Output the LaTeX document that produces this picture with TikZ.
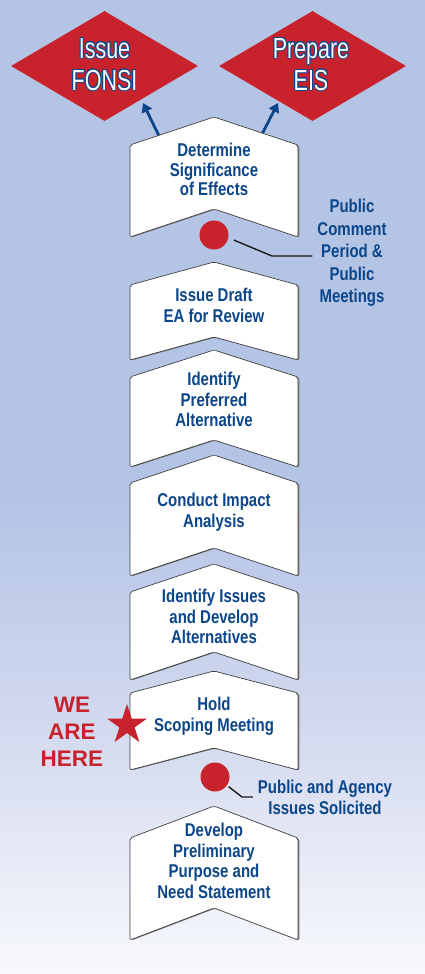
\documentclass[tikz,border=0pt]{standalone}
\usepackage{fontspec}
\setmainfont{Liberation Sans}
\newfontfamily\chevfont[FakeStretch=0.81]{Liberation Sans Bold}
\newfontfamily\diafont[FakeStretch=0.74]{Liberation Sans}
\usepackage{contour}
\contourlength{0.9pt}
\usetikzlibrary{shapes.geometric,arrows.meta}
\definecolor{dblue}{RGB}{12,70,138}
\definecolor{dred}{RGB}{200,35,45}
\definecolor{bgtop}{RGB}{180,196,229}
\definecolor{bgmid}{RGB}{214,220,240}
\definecolor{bgbot}{RGB}{248,249,253}
\pgfdeclareverticalshading{bgshade}{100bp}{color(0bp)=(bgbot); color(25bp)=(bgbot); color(36.5bp)=(bgmid); color(49.3bp)=(bgtop); color(100bp)=(bgtop)}
\newcommand\chevshape[3]{%
  \fill[black!55,rounded corners=2pt,xshift=1.3pt,yshift=-0.5pt] (130,#1) -- (214,{#1-#3}) -- (298,#1) -- (298,#2) -- (214,{#2-#3}) -- (130,#2) -- cycle;
  \filldraw[chev] (130,#1) -- (214,{#1-#3}) -- (298,#1) -- (298,#2) -- (214,{#2-#3}) -- (130,#2) -- cycle;}
\tikzset{
  chev/.style={fill=white, draw=black!75, line width=0.7pt, rounded corners=2pt},
  ctext/.style={anchor=north, inner sep=0pt, align=center, text=dblue, font=\chevfont\fontsize{18.5}{20.5}\selectfont},
  dtext/.style={anchor=north, inner sep=0pt, align=center, text=white, font=\diafont\fontsize{29}{32}\selectfont},
  dia/.style={diamond, fill=dred, minimum width=187pt, minimum height=110pt, inner sep=0pt},
  arr/.style={draw=dblue, line width=2.8pt, -{Triangle[width=11pt,length=9pt]}},
  dot/.style={circle, fill=dred, minimum size=29pt, inner sep=0pt},
  leader/.style={draw=black!90, line width=1.4pt},
}
\begin{document}
\begin{tikzpicture}[x=1pt,y=-1pt]
\useasboundingbox (0,0) rectangle (425,974);
\shade[shading=bgshade] (0,0) rectangle (425,974);
% decision diamonds
\node[dia] (fonsi) at (104.5,66) {};
\node[dia] (eis) at (312.5,66) {};
\node[dtext] (fonsit) at (104.5,38) {\contour{dblue}{Issue}\\\contour{dblue}{FONSI}};
\node[dtext] (eist) at (311,38) {\contour{dblue}{Prepare}\\\contour{dblue}{EIS}};
% arrows
\coordinate (a1s) at (160,138);
\coordinate (a1e) at (143,103);
\coordinate (a2s) at (261,136);
\coordinate (a2e) at (278,103);
\draw[arr] (a1s) -- (a1e);
\draw[arr] (a2s) -- (a2e);
% chevrons
\chevshape{145}{237}{28}
\chevshape{285}{360}{23}
\chevshape{377}{467}{27}
\chevshape{483}{576}{28}
\chevshape{592}{680}{28}
\chevshape{693}{770}{22}
\chevshape{838}{940}{32}
% chevron texts
\node[ctext, font=\chevfont\fontsize{18.5}{19.5}\selectfont] (det) at (214,143) {Determine\\Significance\\of Effects};
\node[ctext] (draft) at (214,288) {Issue Draft\\EA for Review};
\node[ctext] (pref) at (214,372) {Identify\\Preferred\\Alternative};
\node[ctext] (impact) at (214,493) {Conduct Impact\\Analysis};
\node[ctext] (issues) at (214,589) {Identify Issues\\and Develop\\Alternatives};
\node[ctext, font=\chevfont\fontsize{18.5}{21}\selectfont] (scope) at (214,697) {Hold\\Scoping Meeting};
\node[ctext] (need) at (214,823) {Develop\\Preliminary\\Purpose and\\Need Statement};
% public involvement dots
\node[dot] (dot1) at (214,235) {};
\node[dot] (dot2) at (215,777) {};
\node[ctext, font=\chevfont\fontsize{18.5}{22.5}\selectfont] (pc1) at (352,199) {Public\\Comment\\Period \&\\Public\\Meetings};
\node[ctext, font=\chevfont\fontsize{18.5}{21}\selectfont] (pa2) at (325,780) {Public and Agency\\Issues Solicited};
\coordinate (k1) at (272,256);
\coordinate (k2) at (242,797);
\draw[leader, shorten <=6pt, shorten >=5pt] (dot1.-11) -- (k1) -- (k1 -| pc1.west);
\draw[leader, shorten <=2pt, shorten >=5pt] (dot2.-35) -- (k2) -- (k2 -| pa2.west);
% we are here
\node[anchor=north, inner sep=0pt, align=center, text=dred, font=\bfseries\fontsize{22.5}{27}\selectfont] (here) at (72,697) {WE\\ARE\\HERE};
\node[star, star points=5, star point ratio=2.618, fill=dred, minimum size=42pt, inner sep=0pt] (star) at (127,725) {};
\end{tikzpicture}
\end{document}
